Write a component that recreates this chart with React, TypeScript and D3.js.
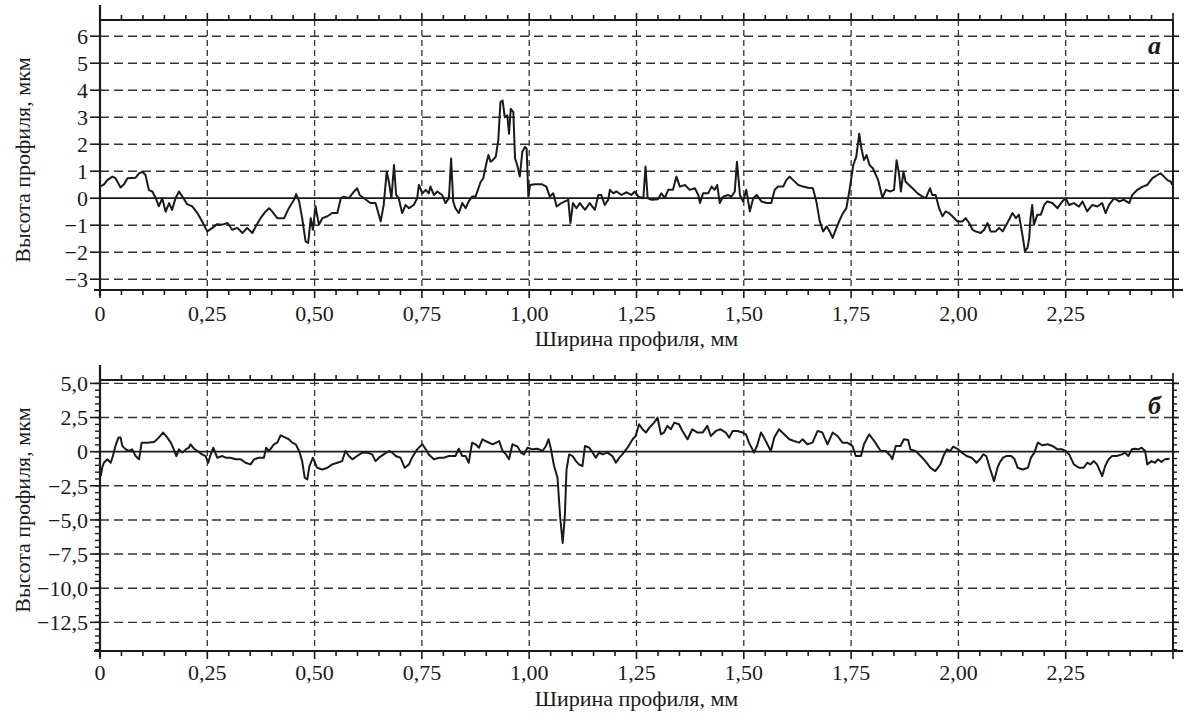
import React from "react";
import * as d3 from "d3";

// профиль а: [ширина, мм; высота, мкм]
const profileA: [number, number][] = [
  [0, 0.43], [0.009, 0.5], [0.017, 0.67], [0.029, 0.8], [0.036, 0.74], [0.048, 0.4], [0.056, 0.52], [0.064, 0.74],
  [0.083, 0.76], [0.091, 0.92], [0.099, 0.98], [0.106, 0.86], [0.114, 0.3], [0.122, 0.25], [0.13, 0], [0.137, -0.3],
  [0.145, 0], [0.153, -0.5], [0.161, -0.18], [0.168, -0.43], [0.176, 0], [0.184, 0.25], [0.192, 0.06], [0.203, -0.22],
  [0.215, -0.3], [0.227, -0.55], [0.238, -0.86], [0.25, -1.23], [0.262, -1.1], [0.273, -0.96], [0.285, -0.98],
  [0.297, -0.92], [0.308, -1.17], [0.32, -1.1], [0.332, -1.29], [0.343, -1.1], [0.355, -1.29], [0.363, -1.04],
  [0.374, -0.74], [0.386, -0.49], [0.394, -0.37], [0.401, -0.49], [0.413, -0.74], [0.429, -0.74], [0.44, -0.37],
  [0.452, -0.06], [0.457, 0.15], [0.464, -0.12], [0.471, -0.74], [0.479, -1.6], [0.485, -1.66], [0.491, -0.74],
  [0.496, -1.17], [0.502, -0.3], [0.51, -0.98], [0.518, -0.74], [0.53, -0.67], [0.541, -0.55], [0.553, -0.55],
  [0.561, 0], [0.568, 0.06], [0.58, 0], [0.592, 0.25], [0.599, 0.37], [0.605, 0.12], [0.615, 0], [0.63, -0.18],
  [0.642, -0.18], [0.654, -0.86], [0.661, -0.25], [0.668, 0.98], [0.673, 0.61], [0.679, 0], [0.685, 1.23],
  [0.69, 0.12], [0.696, 0], [0.704, -0.55], [0.712, -0.25], [0.72, -0.37], [0.731, -0.25], [0.739, 0], [0.743, 0.49],
  [0.751, 0.18], [0.759, 0.31], [0.766, 0.18], [0.77, 0.43], [0.778, 0.12], [0.786, 0.25], [0.797, 0.12],
  [0.805, -0.18], [0.813, 0], [0.818, 1.47], [0.823, -0.12], [0.828, -0.37], [0.836, -0.55], [0.844, -0.18],
  [0.852, -0.37], [0.859, -0.12], [0.867, 0.06], [0.875, 0.06], [0.887, 0.61],
  [0.893, 0.74], [0.901, 1.35], [0.905, 1.6], [0.91, 1.35], [0.915, 1.41], [0.922, 1.53], [0.928, 2.15],
  [0.933, 3.56], [0.938, 3.62], [0.943, 3.0], [0.949, 3.07], [0.953, 2.39], [0.957, 3.31], [0.963, 3.19],
  [0.967, 1.47], [0.972, 1.23], [0.978, 0.8], [0.984, 1.72], [0.99, 1.9], [0.994, 1.84], [0.998, 0.06],
  [1.002, 0.49], [1.013, 0.52], [1.029, 0.52], [1.04, 0.43], [1.048, 0.06], [1.056, 0.18], [1.064, -0.31],
  [1.075, -0.18], [1.083, -0.12], [1.091, -0.06], [1.096, -0.92], [1.102, -0.18], [1.11, -0.37], [1.118, -0.18],
  [1.13, -0.43], [1.141, -0.18], [1.153, -0.43], [1.161, 0.12], [1.168, 0.12], [1.176, -0.25], [1.184, -0.06],
  [1.188, 0.31], [1.196, 0.18], [1.203, 0.25], [1.215, 0.12], [1.227, 0.22], [1.238, 0.12], [1.246, 0.25],
  [1.254, 0.06], [1.266, 0], [1.271, 1.17], [1.276, 0], [1.285, -0.06], [1.3, -0.04], [1.308, 0.18], [1.316, 0],
  [1.324, 0.31], [1.335, 0.31], [1.343, 0.8], [1.351, 0.43], [1.363, 0.49], [1.374, 0.31], [1.386, 0.37],
  [1.394, 0.12], [1.398, -0.18], [1.405, 0.18], [1.417, 0.18], [1.425, 0.43], [1.432, 0.31], [1.438, 0.49],
  [1.444, -0.18], [1.452, 0.06], [1.463, 0.12], [1.471, 0.06], [1.479, 0.25], [1.484, 1.35], [1.491, 0.12],
  [1.498, -0.12], [1.506, 0.31], [1.514, -0.49], [1.522, 0], [1.53, 0.12], [1.541, -0.12], [1.553, -0.18],
  [1.564, -0.18], [1.572, 0.31], [1.58, 0.43], [1.592, 0.43], [1.599, 0.67], [1.607, 0.8], [1.615, 0.67],
  [1.627, 0.49], [1.638, 0.43], [1.65, 0.39], [1.661, 0.37], [1.669, -0.12], [1.677, -0.86], [1.685, -1.23],
  [1.693, -1.04], [1.7, -1.23], [1.707, -1.47], [1.714, -1.17], [1.722, -0.86], [1.731, -0.55], [1.739, -0.37],
  [1.747, 0.37], [1.755, 1.23], [1.762, 1.53], [1.769, 2.39], [1.774, 1.84], [1.78, 1.41], [1.786, 1.6],
  [1.793, 1.23], [1.801, 1.1], [1.813, 0.67],
  [1.823, 0.02], [1.831, 0.31], [1.842, 0.25], [1.85, 0.31], [1.856, 1.41], [1.862, 0.86], [1.866, 0.25],
  [1.872, 0.98], [1.877, 0.61], [1.885, 0.49], [1.893, 0.37], [1.905, 0.18], [1.916, 0.06], [1.924, 0],
  [1.934, 0.37], [1.939, 0.12], [1.947, 0.12], [1.955, -0.37], [1.963, -0.67], [1.97, -0.49], [1.978, -0.55],
  [1.986, -0.67], [1.998, -0.86], [2.009, -0.86], [2.017, -0.74], [2.025, -0.92], [2.033, -1.17], [2.04, -1.23],
  [2.052, -1.29], [2.06, -1.17], [2.068, -0.92], [2.075, -1.23], [2.087, -1.23], [2.095, -1.1], [2.103, -1.23],
  [2.11, -1.04], [2.118, -0.8], [2.126, -0.55], [2.134, -0.74], [2.141, -0.61], [2.149, -1.35], [2.155, -1.96],
  [2.161, -1.84], [2.165, -1.47], [2.168, -0.74], [2.172, -0.25], [2.176, -0.98], [2.184, -0.61], [2.192, -0.61],
  [2.2, -0.25], [2.207, -0.12], [2.219, -0.18], [2.231, -0.37], [2.242, -0.12], [2.25, 0], [2.258, -0.25],
  [2.269, -0.18], [2.281, -0.31], [2.289, -0.12], [2.3, -0.49], [2.312, -0.25], [2.324, -0.31], [2.335, -0.18],
  [2.343, -0.55], [2.351, -0.25], [2.363, 0], [2.374, -0.12], [2.386, -0.06], [2.398, -0.18], [2.405, 0.12],
  [2.417, 0.31], [2.429, 0.43], [2.44, 0.49], [2.452, 0.74], [2.464, 0.86], [2.471, 0.92], [2.479, 0.8],
  [2.487, 0.67], [2.495, 0.61], [2.498, 0.49],
];

// профиль б
const profileB: [number, number][] = [
  [0.002, -1.79], [0.005, -1.18], [0.009, -0.81], [0.017, -0.56], [0.025, -0.81], [0.03, -0.32], [0.036, 0.42],
  [0.043, 1.03], [0.048, 1.03], [0.052, 0.42], [0.06, 0.17], [0.068, 0.05], [0.075, 0.17], [0.083, -0.32],
  [0.091, -0.56], [0.097, 0.66], [0.11, 0.66], [0.126, 0.71], [0.137, 1.03], [0.147, 1.4], [0.157, 1.03],
  [0.165, 0.66], [0.172, 0.17], [0.178, -0.32], [0.184, 0.17], [0.192, -0.07], [0.2, 0.17], [0.207, 0.29],
  [0.211, 0.54], [0.219, 0.22], [0.227, 0.05], [0.238, -0.2], [0.246, -0.32], [0.252, -0.81], [0.258, -0.2],
  [0.264, 0.29], [0.273, -0.44], [0.285, -0.32], [0.293, -0.44], [0.304, -0.44], [0.316, -0.56], [0.328, -0.56],
  [0.339, -0.81], [0.351, -0.93], [0.359, -0.56], [0.37, -0.44], [0.382, -0.44], [0.387, 0.29], [0.394, 0.05],
  [0.405, 0.54], [0.413, 0.66], [0.421, 1.2], [0.432, 1.03], [0.44, 0.91], [0.448, 0.66], [0.456, 0.54],
  [0.464, 0.05], [0.471, -0.69], [0.477, -1.91], [0.483, -2.03], [0.488, -1.05], [0.496, -0.44], [0.506, -1.18],
  [0.518, -1.3], [0.53, -1.18], [0.541, -0.93], [0.553, -0.81], [0.564, -0.69], [0.572, 0.05], [0.58, -0.32],
  [0.588, -0.56], [0.599, -0.32], [0.611, -0.07], [0.623, -0.07], [0.634, -0.2], [0.642, -0.69], [0.65, -0.44],
  [0.661, -0.2], [0.673, 0.05], [0.681, -0.07], [0.689, -0.32], [0.7, -0.44], [0.71, -1.18], [0.72, -0.93],
  [0.727, -0.44], [0.739, 0.17], [0.751, 0.54], [0.759, 0.17], [0.766, -0.2], [0.778, -0.56], [0.79, -0.44],
  [0.801, -0.44], [0.813, -0.32], [0.828, -0.32], [0.836, 0.22], [0.844, -0.32], [0.852, -0.32], [0.859, -0.81],
  [0.867, 0.66], [0.875, 0.54], [0.883, 0.29], [0.891, 0.91], [0.898, 0.78],
  [0.915, 0.54], [0.93, 0.78], [0.938, 0.05], [0.946, -0.2], [0.953, -0.56], [0.961, 0.54], [0.973, 0.37],
  [0.981, -0.07], [0.988, -0.2], [0.996, 0.29], [1.008, 0.17], [1.019, 0.22], [1.031, 0.05], [1.039, 0.42],
  [1.045, 0.91], [1.05, 0.29], [1.058, -1.05], [1.066, -1.91], [1.072, -4.73], [1.078, -6.69], [1.083, -4.73],
  [1.087, -1.3], [1.093, -0.2], [1.101, -0.32], [1.109, -0.69], [1.116, -0.93], [1.124, -1.05], [1.13, 0.42],
  [1.14, 0.29], [1.148, -0.07], [1.155, -0.44], [1.163, -0.07], [1.171, -0.2], [1.182, -0.07], [1.194, -0.32],
  [1.202, -0.81], [1.21, -0.44], [1.217, -0.2], [1.229, 0.29], [1.241, 0.91], [1.248, 1.15], [1.256, 2.01],
  [1.264, 1.64], [1.272, 1.4], [1.28, 1.76], [1.291, 2.13], [1.299, 2.5], [1.307, 1.27], [1.314, 1.4],
  [1.322, 1.89], [1.33, 1.64], [1.338, 2.13], [1.349, 2.01], [1.357, 1.52], [1.369, 0.91], [1.38, 1.64],
  [1.392, 1.4], [1.404, 1.4], [1.415, 1.89], [1.423, 1.15], [1.435, 1.52], [1.446, 1.64], [1.458, 1.4],
  [1.466, 1.03], [1.474, 1.52], [1.485, 1.52], [1.497, 1.4], [1.505, 1.27], [1.512, 0.66], [1.524, -0.07],
  [1.532, 0.54], [1.54, 1.4], [1.547, 1.03], [1.555, 0.54], [1.563, 0.05], [1.571, 1.03], [1.582, 1.64],
  [1.594, 1.27], [1.606, 0.91], [1.617, 0.78], [1.629, 0.66], [1.637, 0.91], [1.648, 0.54], [1.66, 0.66],
  [1.672, 1.52], [1.683, 1.4], [1.695, 0.54], [1.707, 1.4], [1.718, 1.15], [1.73, 0.66], [1.741, 0.66],
  [1.753, 0.42], [1.761, -0.32], [1.773, -0.32], [1.78, 0.54], [1.792, 1.27], [1.804, 0.78],
  [1.819, 0.05], [1.831, 0.05], [1.842, -0.32], [1.846, -0.56], [1.854, 0.42], [1.865, 0.42], [1.873, 0.91],
  [1.883, 0.86], [1.888, 0.17], [1.9, 0.05], [1.912, -0.32], [1.923, -0.69], [1.935, -1.18], [1.946, -1.42],
  [1.958, -0.93], [1.965, -0.32], [1.973, 0.17], [1.981, 0.05], [1.988, 0.37], [2.0, 0.17], [2.008, -0.07],
  [2.019, -0.32], [2.031, -0.44], [2.042, -0.81], [2.05, -0.56], [2.058, -0.2], [2.065, -0.32], [2.073, -1.18],
  [2.083, -2.16], [2.091, -1.18], [2.096, -0.81], [2.104, -0.44], [2.112, -0.32], [2.123, -0.32], [2.131, -0.56],
  [2.138, -1.18], [2.15, -1.3], [2.162, -1.18], [2.169, -0.44], [2.177, -0.07], [2.185, 0.66], [2.196, 0.47],
  [2.208, 0.54], [2.219, 0.42], [2.231, 0.17], [2.242, 0.17], [2.25, 0.05], [2.258, -0.2], [2.269, -0.93],
  [2.281, -1.18], [2.292, -1.18], [2.3, -0.81], [2.308, -0.93], [2.315, -0.69], [2.323, -0.93], [2.335, -1.79],
  [2.342, -1.05], [2.35, -0.56], [2.358, -0.32], [2.369, -0.32], [2.381, -0.2], [2.388, -0.07], [2.396, -0.32],
  [2.404, 0.17], [2.412, 0.22], [2.419, 0.17], [2.427, 0.29], [2.435, 0.05], [2.44, -0.93], [2.45, -0.69],
  [2.458, -0.81], [2.465, -0.56], [2.473, -0.76], [2.481, -0.56], [2.492, -0.51],
];

const xMajor = d3.range(10).map((i) => i * 0.25);
const xMinor = d3.range(51).map((i) => i * 0.05);
const yMajorA = d3.range(-3, 7);
const yMajorB = d3.range(-5, 3).map((i) => i * 2.5);
const yMinorB = d3.range(-29, 11).map((i) => i * 0.5);

const xLabel = "Ширина профиля, мм";
const yLabel = "Высота профиля, мкм";
const TXT = { fontFamily: "Liberation Serif" };
const INK = "#1a1a1a";

const L = 100;
const R = 1173;

const comma = (s: string) => s.replace(".", ",").replace("-", "\u2212");
const fmtX = (v: number) => (v === 0 ? "0" : comma(v.toFixed(2)));

type PanelProps = {
  data: [number, number][];
  top: number;
  bottom: number;
  yDomain: [number, number];
  yMajor: number[];
  yMinor: number[];
  fmtY: (v: number) => string;
  letter: string;
  tickBase: number;
  titleBase: number;
  yLabelMid: number;
};

function Panel(p: PanelProps) {
  const x = d3.scaleLinear().domain([0, 2.5]).range([L, R]);
  const y = d3.scaleLinear().domain(p.yDomain).range([p.bottom, p.top]);
  const line = d3
    .line<[number, number]>()
    .x((d) => x(d[0]))
    .y((d) => y(d[1]));

  return (
    <g fill={INK}>
      {/* сетка */}
      {p.yMajor
        .filter((v) => v !== 0)
        .map((v) => (
          <line key={"gy" + v} x1={L} x2={R + 4} y1={y(v)} y2={y(v)} stroke="#333" strokeWidth={1.4} strokeDasharray="9,5" />
        ))}
      {xMajor
        .filter((v) => v > 0)
        .map((v) => (
          <line key={"gx" + v} x1={x(v)} x2={x(v)} y1={p.top} y2={p.bottom} stroke="#333" strokeWidth={1.3} strokeDasharray="6,4" />
        ))}
      <line x1={L} x2={R} y1={y(0)} y2={y(0)} stroke={INK} strokeWidth={1.7} />

      {/* рамка */}
      <line x1={L} x2={R} y1={p.top} y2={p.top} stroke={INK} strokeWidth={2} />
      <line x1={R} x2={R} y1={p.top} y2={p.bottom} stroke={INK} strokeWidth={2} />
      <line x1={L} x2={L} y1={p.top - 15} y2={p.bottom + 6} stroke={INK} strokeWidth={2.2} />
      <line x1={L - 6} x2={R + 10} y1={p.bottom} y2={p.bottom} stroke={INK} strokeWidth={2.2} />

      {/* деления по x */}
      {xMinor.map((v, i) => (
        <g key={"tx" + i}>
          <line x1={x(v)} x2={x(v)} y1={p.top} y2={p.top - (i % 5 === 0 ? 7 : 5)} stroke={INK} strokeWidth={1.6} />
          <line x1={x(v)} x2={x(v)} y1={p.bottom} y2={p.bottom + (i % 5 === 0 ? 8 : 5)} stroke={INK} strokeWidth={1.6} />
        </g>
      ))}
      {/* деления по y */}
      {p.yMinor.map((v) => (
        <g key={"tmy" + v}>
          <line x1={L} x2={L - 5} y1={y(v)} y2={y(v)} stroke={INK} strokeWidth={1.4} />
          <line x1={R} x2={R + 4} y1={y(v)} y2={y(v)} stroke={INK} strokeWidth={1.4} />
        </g>
      ))}
      {p.yMajor.map((v) => (
        <g key={"ty" + v}>
          <line x1={L} x2={L - 10} y1={y(v)} y2={y(v)} stroke={INK} strokeWidth={1.6} />
          <line x1={R} x2={R + 6} y1={y(v)} y2={y(v)} stroke={INK} strokeWidth={1.6} />
          <text x={L - 12} y={y(v)} dy="0.35em" textAnchor="end" fontSize={22} style={TXT}>
            {p.fmtY(v)}
          </text>
        </g>
      ))}
      {xMajor.map((v) => (
        <text key={"lx" + v} x={x(v)} y={p.tickBase} textAnchor="middle" fontSize={22} style={TXT}>
          {fmtX(v)}
        </text>
      ))}

      {/* профиль */}
      <path d={line(p.data) ?? ""} fill="none" stroke={INK} strokeWidth={2} strokeLinejoin="round" />

      <text x={(L + R) / 2} y={p.titleBase} textAnchor="middle" fontSize={22} style={TXT}>
        {xLabel}
      </text>
      <text transform={`translate(30,${p.yLabelMid}) rotate(-90)`} textAnchor="middle" fontSize={22} style={TXT}>
        {yLabel}
      </text>
      <text x={R - 12} y={p.top + 34} textAnchor="end" fontSize={26} fontStyle="italic" fontWeight="bold" style={TXT}>
        {p.letter}
      </text>
    </g>
  );
}

export default function App() {
  return (
    <svg width={1189} height={714} style={{ position: "absolute", left: 0, top: 0, background: "#fff" }}>
      <Panel
        data={profileA}
        top={20}
        bottom={290}
        yDomain={[-3.4, 6.6]}
        yMajor={yMajorA}
        yMinor={[]}
        fmtY={(v) => comma(String(v))}
        letter="а"
        tickBase={321}
        titleBase={346}
        yLabelMid={160}
      />
      <Panel
        data={profileB}
        top={380}
        bottom={651}
        yDomain={[-14.6, 5.25]}
        yMajor={yMajorB}
        yMinor={yMinorB}
        fmtY={(v) => (v === 0 ? "0" : comma(v.toFixed(1)))}
        letter="б"
        tickBase={680}
        titleBase={706}
        yLabelMid={510}
      />
    </svg>
  );
}
